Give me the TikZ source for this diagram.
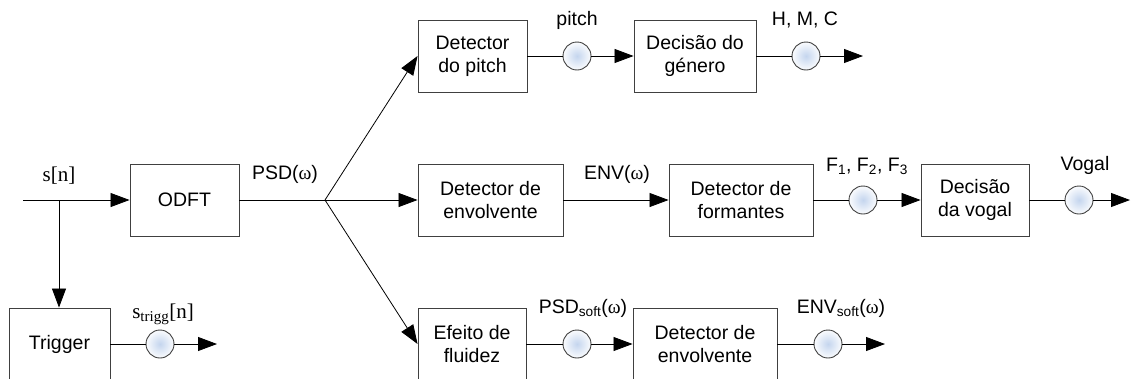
\documentclass[tikz,border=0pt]{standalone}
\usepackage{fontspec}
\setmainfont{Liberation Sans}
\newfontfamily\serifw{Liberation Serif}
\usetikzlibrary{arrows.meta}
\definecolor{boxline}{HTML}{404040}
\definecolor{dotfill}{HTML}{C4D5EE}
\newcommand{\om}{{\serifw ω}}
\tikzset{
  blk/.style={draw=boxline, line width=0.9pt, inner sep=0pt, align=center,
    minimum height=72pt, font=\fontsize{19.5}{23}\selectfont},
  dot/.style={circle, draw=boxline, line width=0.9pt, minimum size=28pt, inner sep=0pt,
    inner color=dotfill, outer color=white!92!dotfill},
  lbl/.style={font=\fontsize{19.5}{23}\selectfont, inner sep=0pt},
  wire/.style={line width=0.8pt},
  flow/.style={wire, -{Triangle[length=19pt, width=14pt]}},
}
\begin{document}
\begin{tikzpicture}[x=1pt, y=-1pt]
\clip (0,0) rectangle (1131,378);
% blocks
\node[blk, minimum width=109pt] (odft) at (184.5,200) {ODFT};
\node[blk, minimum width=101pt] (trig) at (59.5,344) {Trigger};
\node[blk, minimum width=109pt] (dp) at (472.5,56) {Detector\\do pitch};
\node[blk, minimum width=122pt] (dg) at (695,56) {Decisão do\\género};
\node[blk, minimum width=145pt] (de) at (490.5,200) {Detector de\\envolvente};
\node[blk, minimum width=144pt] (df) at (741,200) {Detector de\\formantes};
\node[blk, minimum width=108pt] (dv) at (975,200) {Decisão\\da vogal};
\node[blk, minimum width=108pt] (ef) at (472,344) {Efeito de\\fluidez};
\node[blk, minimum width=144pt] (de2) at (705,344) {Detector de\\envolvente};
% signal dots
\node[dot] (c1) at (577,56) {};
\node[dot] (c2) at (806,56) {};
\node[dot] (c3) at (863,200) {};
\node[dot] (c4) at (1079,200) {};
\node[dot] (c5) at (160,344) {};
\node[dot] (c6) at (577,344) {};
\node[dot] (c7) at (828,344) {};
% free ends and branch points
\coordinate (in) at (23,200);
\coordinate (sp) at (59,200);
\coordinate (br) at (325,200);
\coordinate (e2) at (863,56);
\coordinate (e4) at (1130,200);
\coordinate (e5) at (217,344);
\coordinate (e7) at (885,344);
% input and trigger path
\draw[flow] (in) -- (odft.west);
\draw[flow] (sp) -- (trig.north -| sp);
\draw[wire] (trig) -- (c5);
\draw[flow] (c5) -- (e5);
% spectrum fan-out
\draw[wire] (odft) -- (br);
\draw[flow] (br) -- (dp.west);
\draw[flow] (br) -- (de.west);
\draw[flow] (br) -- (ef.west);
% pitch branch
\draw[wire] (dp) -- (c1);
\draw[flow] (c1) -- (dg);
\draw[wire] (dg) -- (c2);
\draw[flow] (c2) -- (e2);
% vowel branch
\draw[flow] (de) -- (df);
\draw[wire] (df) -- (c3);
\draw[flow] (c3) -- (dv);
\draw[wire] (dv) -- (c4);
\draw[flow] (c4) -- (e4);
% smoothed branch
\draw[wire] (ef) -- (c6);
\draw[flow] (c6) -- (de2);
\draw[wire] (de2) -- (c7);
\draw[flow] (c7) -- (e7);
% signal labels
\node[lbl, font=\serifw\fontsize{21}{23}\selectfont] (lsn) at (59,176) {s[n]};
\node[lbl] (lpsd) at (285,174) {PSD(\om)};
\node[lbl] (lpitch) at (577,20) {pitch};
\node[lbl] (lhmc) at (805,20) {H, M, C};
\node[lbl] (lenv) at (617,174) {ENV(\om)};
\node[lbl] (lf) at (867,166) {F\textsubscript{1}, F\textsubscript{2}, F\textsubscript{3}};
\node[lbl] (lvog) at (1085,165) {Vogal};
\node[lbl, font=\serifw\fontsize{21}{23}\selectfont] (lst) at (163,314) {s\textsubscript{\fontsize{15}{15}\selectfont trigg}[n]};
\node[lbl] (lpsds) at (583,308) {PSD\textsubscript{soft}(\om)};
\node[lbl] (lenvs) at (841,308) {ENV\textsubscript{soft}(\om)};
\end{tikzpicture}
\end{document}
